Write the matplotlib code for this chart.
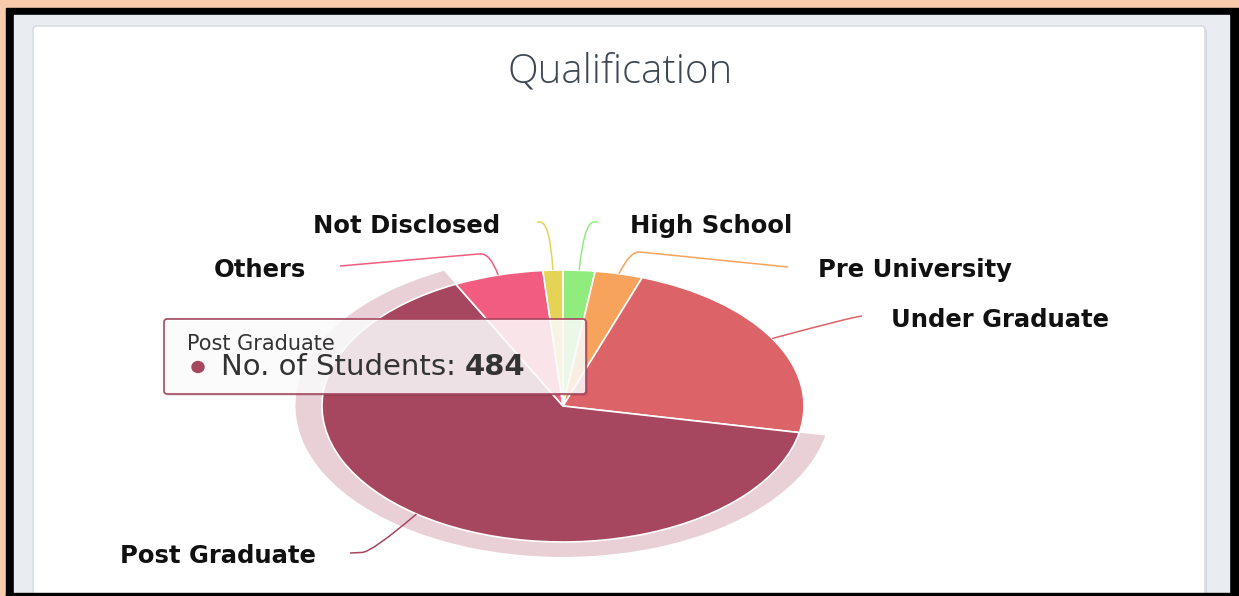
import matplotlib
matplotlib.use('Agg')
import matplotlib.pyplot as plt
from matplotlib.patches import Rectangle, FancyBboxPatch, Ellipse, PathPatch
from matplotlib.path import Path
import numpy as np

# data
categories = ['High School', 'Pre University', 'Under Graduate',
              'Post Graduate', 'Others', 'Not Disclosed']
students = [16, 24, 171, 484, 45, 10]
colors = ['#90ed7d', '#f7a35c', '#dc6468', '#a6475f', '#f15c80', '#e4d354']
hovered = 'Post Graduate'
series_name = 'No. of Students'

# label layout in pixels: (elbow, end, text pos, ha)
label_layout = {
    'High School':    ((584, 222), (598, 222), (630, 226), 'left'),
    'Pre University': ((630, 251), (788, 267), (818, 270), 'left'),
    'Under Graduate': ((852, 317), (862, 316), (891, 320), 'left'),
    'Post Graduate':  ((372, 552), (350, 553), (316, 556), 'right'),
    'Others':         ((490, 253), (340, 266), (306, 270), 'right'),
    'Not Disclosed':  ((550, 222), (537, 222), (500, 226), 'right'),
}

W, H = 1239, 596
fig = plt.figure(figsize=(W / 100, H / 100), dpi=100, facecolor='#f7caac')

# ── background frames ──
bg = fig.add_axes([0, 0, 1, 1])
bg.set_xlim(0, W)
bg.set_ylim(H, 0)
bg.axis('off')
bg.add_patch(Rectangle((6, 8), W - 6, H - 8, color='black'))
bg.add_patch(Rectangle((14, 15), 1229 - 14, 593 - 15, color='#e9ecf1'))
bg.add_patch(FancyBboxPatch((35, 28), 1172, 600, boxstyle='round,pad=0,rounding_size=4',
                            fc='#d3d8df', ec='none'))
bg.add_patch(FancyBboxPatch((33, 26), 1172, 600, boxstyle='round,pad=0,rounding_size=4',
                            fc='white', ec='#d8dce3', lw=1.2))
bg.add_patch(Rectangle((6, 593), W, 3, color='black'))
bg.text(620, 72, 'Qualification', ha='center', va='center', fontsize=29,
        color='#3e4854', family='Open Sans', fontweight='light')

# ── pie (stretched, like the source) ──
cx, cy, rx, ry = 563, 406, 241, 136
m = 1.25
pax = fig.add_axes([(cx - m * rx) / W, (H - cy - m * ry) / H,
                    2 * m * rx / W, 2 * m * ry / H], zorder=2)
hi = categories.index(hovered)
halo_colors = [(0.651, 0.278, 0.373, 0.25) if i == hi else (0, 0, 0, 0)
               for i in range(len(categories))]
pax.pie(students, radius=1.11, startangle=90, counterclock=False,
        colors=halo_colors, wedgeprops=dict(width=0.11, linewidth=0))
wedges, _ = pax.pie(students, radius=1, startangle=90, counterclock=False,
                    colors=colors, wedgeprops=dict(edgecolor='white', linewidth=1.2))
pax.set_aspect('auto')
pax.set_xlim(-m, m)
pax.set_ylim(-m, m)
pax.axis('off')

# ── overlay: connectors, labels, tooltip ──
ov = fig.add_axes([0, 0, 1, 1], zorder=3)
ov.set_xlim(0, W)
ov.set_ylim(H, 0)
ov.axis('off')
ov.patch.set_alpha(0)

to_ov = pax.transData + ov.transData.inverted()
for w, name, col in zip(wedges, categories, colors):
    mid = np.deg2rad((w.theta1 + w.theta2) / 2)
    start = to_ov.transform((np.cos(mid), np.sin(mid)))
    elbow, end, tpos, ha = label_layout[name]
    elbow = np.array(elbow, float)
    end = np.array(end, float)
    d = end - elbow
    dist = np.hypot(*d)
    p2 = elbow + d / dist * min(10, dist)
    path = Path([start, elbow, p2, end],
                [Path.MOVETO, Path.CURVE3, Path.CURVE3, Path.LINETO])
    ov.add_patch(PathPatch(path, fc='none', ec=col, lw=1.1))
    ov.text(tpos[0], tpos[1], name, ha=ha, va='center', fontsize=17.5,
            fontweight='bold', color='#111111')

# tooltip
ov.add_patch(FancyBboxPatch((166, 321), 422, 75, boxstyle='round,pad=0,rounding_size=3',
                            fc=(0, 0, 0, 0.10), ec='none'))
ov.add_patch(FancyBboxPatch((164, 319), 422, 75, boxstyle='round,pad=0,rounding_size=3',
                            fc=(1, 1, 1, 0.85), ec=colors[hi], lw=1.2))
ov.text(187, 344, hovered, ha='left', va='center', fontsize=15, color='#333333')
ov.add_patch(Ellipse((198, 367), 12, 11, color=colors[hi]))
t1 = ov.text(221, 367, f'{series_name}: ', ha='left', va='center',
             fontsize=21, color='#333333')
ov.annotate(str(students[hi]), xy=(1, 0), xycoords=t1, ha='left', va='bottom',
            fontsize=21, fontweight='bold', color='#333333')

fig.savefig('out.png', dpi=100, facecolor=fig.get_facecolor())
plt.close()
